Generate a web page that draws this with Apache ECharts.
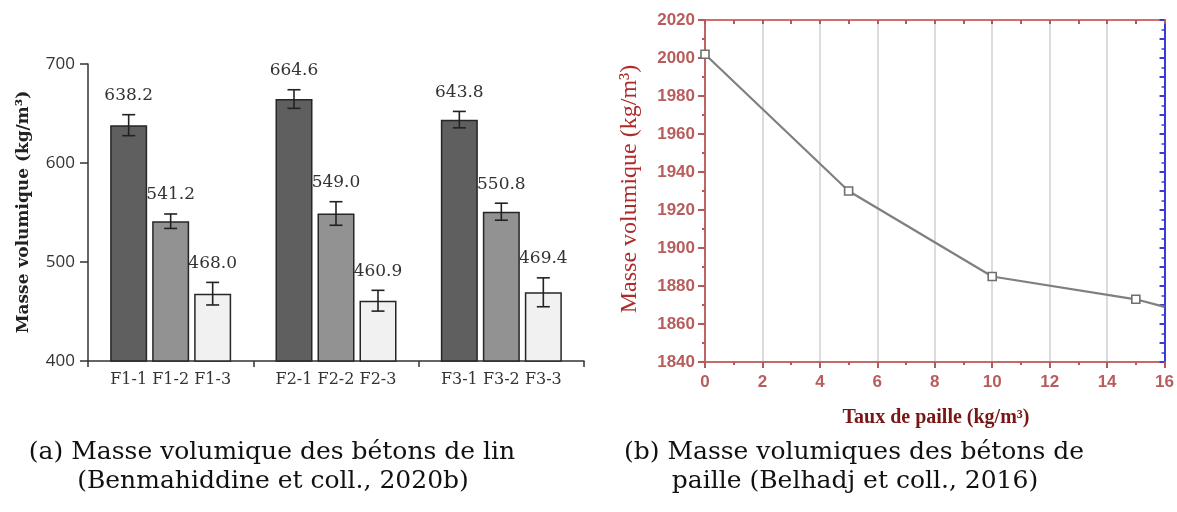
<!DOCTYPE html>
<html><head><meta charset="utf-8">
<script src="https://cdn.jsdelivr.net/npm/echarts@6/dist/echarts.min.js"></script>
<style>html,body{margin:0;padding:0;background:#fff}#c{width:1177px;height:512px}</style>
</head><body><div id="c"></div>
<script>
// ---- data (a) flax concretes ----
const groups = ['F1', 'F2', 'F3'];
const densityMix1 = [638.2, 664.6, 643.8];
const densityMix2 = [541.2, 549.0, 550.8];
const densityMix3 = [468.0, 460.9, 469.4];
const errMix1 = [10.6, 9.4, 8.3];
const errMix2 = [7.3, 11.9, 8.6];
const errMix3 = [11.4, 10.5, 14.6];
const leftYTicks = [400, 500, 600, 700];
// ---- data (b) straw concretes ----
const strawRate = [0, 5, 10, 15, 16];
const strawDensity = [2002, 1930, 1885, 1873, 1869];
const rightYTicks = [1840, 1860, 1880, 1900, 1920, 1940, 1960, 1980, 2000, 2020];
const rightXTicks = [0, 2, 4, 6, 8, 10, 12, 14, 16];

const BAR_W = 37, BAR_GAP = 5;
const mixes = [densityMix1, densityMix2, densityMix3];
const errs = [errMix1, errMix2, errMix3];
const customData = [];
mixes.forEach((arr, s) => arr.forEach((v, c) => customData.push([c, s, v, errs[s][c]])));

const chart = echarts.init(document.getElementById('c'), null, {renderer: 'canvas'});
const darkRed = '#b85c5c';
const option = {
  animation: false,
  grid: [
    {left: 88, right: 1177 - 584, top: 64, bottom: 512 - 361},
    {left: 705, right: 1177 - 1167, top: 20, bottom: 512 - 362}
  ],
  xAxis: [
    {gridIndex: 0, type: 'category', data: groups, boundaryGap: true,
     axisLine: {onZero: false, lineStyle: {color: '#333', width: 1.5}},
     axisTick: {show: true, length: 6, lineStyle: {color: '#333', width: 1.5}},
     axisLabel: {show: false}, splitLine: {show: false}},
    {gridIndex: 1, type: 'value', min: rightXTicks[0], max: rightXTicks[rightXTicks.length - 1], interval: 2,
     position: 'bottom',
     axisLine: {onZero: false, lineStyle: {color: '#c46a6a', width: 2}},
     axisTick: {length: 6, lineStyle: {color: '#b35a5a', width: 2}},
     minorTick: {show: true, splitNumber: 2, length: 3, lineStyle: {color: '#b35a5a', width: 2}},
     axisLabel: {color: darkRed, fontFamily: 'Liberation Sans', fontSize: 17, fontWeight: 'bold', margin: 12,
                 formatter: v => String(v)},
     splitLine: {show: true, lineStyle: {color: '#dcdcdc', width: 2}}},
    {gridIndex: 1, type: 'value', min: 0, max: 16, interval: 1, position: 'top',
     axisLine: {onZero: false, lineStyle: {color: '#d46e6e', width: 2}},
     axisTick: {inside: true, length: 4, lineStyle: {color: '#b35a5a', width: 2}},
     axisLabel: {show: false}, splitLine: {show: false}}
  ],
  yAxis: [
    {gridIndex: 0, type: 'value', min: leftYTicks[0], max: leftYTicks[leftYTicks.length - 1], interval: 100,
     axisLine: {show: true, onZero: false, lineStyle: {color: '#333', width: 1.5}},
     axisTick: {show: true, length: 8, lineStyle: {color: '#333', width: 1.5}},
     axisLabel: {color: '#333', fontFamily: 'Open Sans', fontSize: 17, margin: 13},
     splitLine: {show: false}},
    {gridIndex: 1, type: 'value', min: rightYTicks[0], max: rightYTicks[rightYTicks.length - 1], interval: 20,
     position: 'left',
     axisLine: {show: true, onZero: false, lineStyle: {color: '#bf6464', width: 2}},
     axisTick: {show: true, length: 7, lineStyle: {color: '#b35a5a', width: 2}},
     minorTick: {show: true, splitNumber: 2, length: 3, lineStyle: {color: '#b35a5a', width: 2}},
     axisLabel: {color: darkRed, fontFamily: 'Liberation Sans', fontSize: 17, fontWeight: 'bold', margin: 10,
                 formatter: v => String(v)},
     splitLine: {show: false}},
    {gridIndex: 1, type: 'value', min: 1840, max: 2020, interval: 10, position: 'right',
     axisLine: {show: true, onZero: false, lineStyle: {color: '#3b3bd6', width: 2}},
     axisTick: {show: true, inside: true, length: 5, lineStyle: {color: '#3b3bd6', width: 2}},
     minorTick: {show: true, splitNumber: 2, length: 3, lineStyle: {color: '#3b3bd6', width: 1.5}},
     axisLabel: {show: false}, splitLine: {show: false}}
  ],
  series: [
    {type: 'bar', xAxisIndex: 0, yAxisIndex: 0, data: densityMix1, barWidth: BAR_W, barGap: (BAR_GAP / BAR_W * 100) + '%',
     itemStyle: {color: '#5f5f5f', borderColor: '#262626', borderWidth: 1.5}},
    {type: 'bar', xAxisIndex: 0, yAxisIndex: 0, data: densityMix2, barWidth: BAR_W, barGap: (BAR_GAP / BAR_W * 100) + '%',
     itemStyle: {color: '#929292', borderColor: '#262626', borderWidth: 1.5}},
    {type: 'bar', xAxisIndex: 0, yAxisIndex: 0, data: densityMix3, barWidth: BAR_W, barGap: (BAR_GAP / BAR_W * 100) + '%',
     itemStyle: {color: '#f1f1f1', borderColor: '#262626', borderWidth: 1.5}},
    {type: 'custom', xAxisIndex: 0, yAxisIndex: 0, data: customData, z: 10, clip: false,
     encode: {x: 0, y: 2},
     renderItem: function (params, api) {
       const c = api.value(0), s = api.value(1), v = api.value(2), e = api.value(3);
       const base = api.coord([c, v]);
       const x = base[0] + (s - 1) * (BAR_W + BAR_GAP);
       const yt = api.coord([c, v + e])[1];
       const yb = api.coord([c, v - e])[1];
       const y0 = api.coord([c, leftYTicks[0]])[1];
       const ls = {stroke: '#222', lineWidth: 1.6};
       return {type: 'group', children: [
         {type: 'line', shape: {x1: x, y1: yt, x2: x, y2: yb}, style: ls},
         {type: 'line', shape: {x1: x - 6.5, y1: yt, x2: x + 6.5, y2: yt}, style: ls},
         {type: 'line', shape: {x1: x - 6.5, y1: yb, x2: x + 6.5, y2: yb}, style: ls},
         {type: 'text', x: x, y: yt - 19, style: {text: v.toFixed(1), fill: '#333', font: '17px "DejaVu Serif"', align: 'center', verticalAlign: 'middle'}},
         {type: 'text', x: x, y: y0 + 19, style: {text: groups[c] + '-' + (s + 1), fill: '#333', font: '16px "DejaVu Serif"', align: 'center', verticalAlign: 'middle'}}
       ]};
     }},
    {type: 'line', xAxisIndex: 1, yAxisIndex: 1,
     data: strawRate.map((x, i) => i === strawRate.length - 1 ? {value: [x, strawDensity[i]], symbol: 'none'} : [x, strawDensity[i]]),
     symbol: 'rect', symbolSize: 8, showAllSymbol: true,
     lineStyle: {color: '#7f7f7f', width: 2.2},
     itemStyle: {color: '#fff', borderColor: '#6f6f6f', borderWidth: 1.6}}
  ],
  graphic: [
    {type: 'text', x: 24, y: 212, rotation: Math.PI / 2,
     style: {text: 'Masse volumique (kg/m³)', font: 'bold 17px "DejaVu Serif"', fill: '#222', align: 'center', verticalAlign: 'middle'}},
    {type: 'text', x: 630, y: 189, rotation: Math.PI / 2,
     style: {text: 'Masse volumique (kg/m³)', font: '24px "Liberation Serif"', fill: '#b02a2a', align: 'center', verticalAlign: 'middle'}},
    {type: 'text', x: 936, y: 418,
     style: {text: 'Taux de paille (kg/m³)', font: 'bold 20px "Liberation Serif"', fill: '#7a1515', align: 'center', verticalAlign: 'middle'}},
    {type: 'text', x: 272, y: 452,
     style: {text: '(a) Masse volumique des bétons de lin', font: '25px "DejaVu Serif"', fill: '#111', align: 'center', verticalAlign: 'middle'}},
    {type: 'text', x: 273, y: 481,
     style: {text: '(Benmahiddine et coll., 2020b)', font: '25px "DejaVu Serif"', fill: '#111', align: 'center', verticalAlign: 'middle'}},
    {type: 'text', x: 854, y: 452,
     style: {text: '(b) Masse volumiques des bétons de', font: '25px "DejaVu Serif"', fill: '#111', align: 'center', verticalAlign: 'middle'}},
    {type: 'text', x: 855, y: 481,
     style: {text: 'paille (Belhadj et coll., 2016)', font: '25px "DejaVu Serif"', fill: '#111', align: 'center', verticalAlign: 'middle'}}
  ]
};
chart.setOption(option);
</script></body></html>
